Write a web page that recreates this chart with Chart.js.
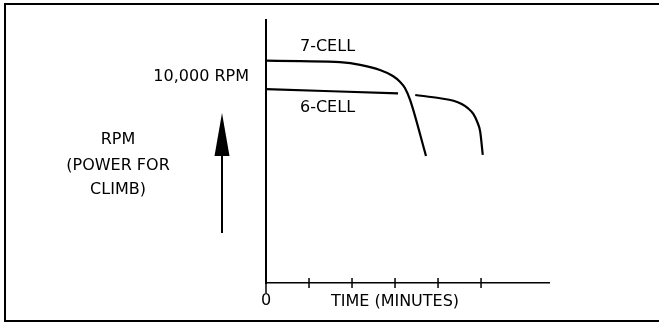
<!DOCTYPE html>
<html>
<head>
<meta charset="utf-8">
<script src="https://cdn.jsdelivr.net/npm/chart.js@4"></script>
<style>
  body { margin: 0; background: #fff; }
  #wrap { width: 659px; height: 324px; }
</style>
</head>
<body>
<div id="wrap"><canvas id="rpmChart" width="659" height="324"></canvas></div>
<script>
// Chart values (time in minutes, rpm)
const sevenCellTime = [0, 0.79, 1.72, 2.19, 2.65, 2.95, 3.12, 3.23, 3.35, 3.72];
const sevenCellRpm = [10800, 10770, 10720, 10590, 10340, 10050, 9760, 9470, 8890, 6170];
const sixCellTime = [0, 3.07, 3.25, 3.47, 4.05, 4.36, 4.55, 4.70, 4.82, 4.91, 4.98, 5.04];
const sixCellRpm = [9410, 9210, null, 9130, 8970, 8850, 8690, 8480, 8210, 7830, 7350, 6220];
const timeTicks = [0, 1, 2, 3, 4, 5];
const rpmTicks = [10000];
const seriesLabels = ['7-CELL', '6-CELL'];
const labelSpots = [[0.79, 11460], [0.79, 8500]];

const FONT = "'DejaVu Sans', sans-serif";
Chart.defaults.font.family = FONT;
Chart.defaults.font.size = 16;
Chart.defaults.color = '#000';

function toPoints(xs, ys) {
  return xs.map((x, i) => ({ x: x, y: ys[i] }));
}

// Frame, side caption, arrow, series names and tick marks
const extras = {
  id: 'extras',
  afterDraw(chart) {
    const c = chart.ctx;
    const xs = chart.scales.x;
    const ys = chart.scales.y;
    c.save();
    c.strokeStyle = '#000';
    c.fillStyle = '#000';

    // outer frame
    c.lineWidth = 2;
    c.strokeRect(5, 4, 662, 317);

    // tick marks crossing the time axis
    c.lineWidth = 1.5;
    const axisY = ys.bottom;
    timeTicks.forEach(t => {
      const px = xs.getPixelForValue(t);
      c.beginPath();
      if (t === 0) {
        c.moveTo(px, axisY);
        c.lineTo(px, axisY + 10);
      } else {
        c.moveTo(px, axisY - 5);
        c.lineTo(px, axisY + 5);
      }
      c.stroke();
    });

    // side caption
    c.font = '16px ' + FONT;
    c.textAlign = 'center';
    c.textBaseline = 'middle';
    c.fillText('RPM', 118, 140);
    c.fillText('(POWER FOR', 118, 166);
    c.fillText('CLIMB)', 118, 190);

    // arrow
    c.lineWidth = 2;
    c.beginPath();
    c.moveTo(222, 233);
    c.lineTo(222, 150);
    c.stroke();
    c.beginPath();
    c.moveTo(222, 113);
    c.lineTo(229.5, 156);
    c.lineTo(214.5, 156);
    c.closePath();
    c.fill();

    // series names
    c.textAlign = 'left';
    seriesLabels.forEach((name, i) => {
      c.fillText(name, xs.getPixelForValue(labelSpots[i][0]), ys.getPixelForValue(labelSpots[i][1]));
    });

    // axis title
    c.textAlign = 'center';
    c.fillText('TIME (MINUTES)', 395, 302);
    c.restore();
  }
};

const ctx = document.getElementById('rpmChart').getContext('2d');
const chart = new Chart(ctx, {
  type: 'line',
  data: {
    datasets: [
      {
        label: seriesLabels[0],
        data: toPoints(sevenCellTime, sevenCellRpm),
        borderColor: '#000',
        borderWidth: 2.2,
        pointRadius: 0,
        cubicInterpolationMode: 'monotone'
      },
      {
        label: seriesLabels[1],
        data: toPoints(sixCellTime, sixCellRpm),
        borderColor: '#000',
        borderWidth: 2.2,
        pointRadius: 0,
        spanGaps: false,
        cubicInterpolationMode: 'monotone'
      }
    ]
  },
  options: {
    responsive: false,
    animation: false,
    layout: { autoPadding: false, padding: { top: 20, right: 110, bottom: 0, left: 0 } },
    plugins: {
      legend: { display: false },
      tooltip: { enabled: false }
    },
    scales: {
      x: {
        type: 'linear',
        min: 0,
        max: 6.58,
        grid: { display: false, drawTicks: false },
        border: { display: true, color: '#000', width: 1.5 },
        afterBuildTicks: s => { s.ticks = timeTicks.map(v => ({ value: v })); },
        afterFit: s => { s.height = 41; s.paddingLeft = 0; s.paddingRight = 0; },
        ticks: {
          padding: 8,
          maxRotation: 0,
          callback: v => (v === 0 ? '0' : '')
        }
      },
      y: {
        min: 0,
        max: 12770,
        grid: { display: false, drawTicks: false },
        border: { display: true, color: '#000', width: 2 },
        afterBuildTicks: s => { s.ticks = rpmTicks.map(v => ({ value: v })); },
        afterFit: s => { s.width = 266; s.paddingTop = 0; s.paddingBottom = 0; },
        ticks: {
          padding: 17,
          callback: v => '10,000 RPM'
        }
      }
    }
  },
  plugins: [extras]
});
</script>
</body>
</html>
